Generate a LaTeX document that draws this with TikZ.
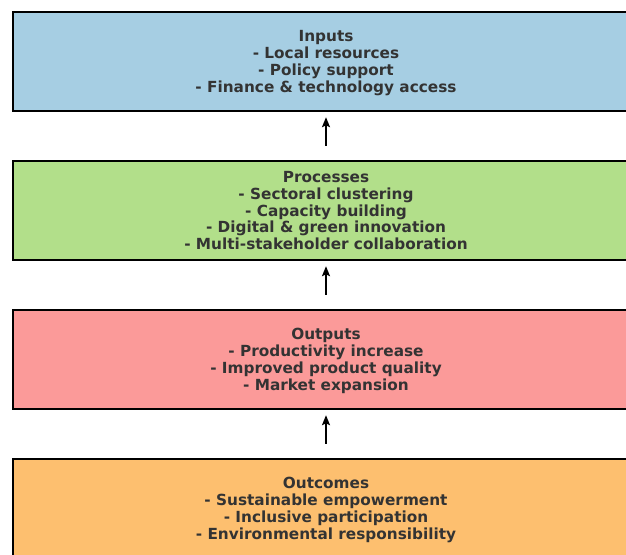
\documentclass[tikz,border=0pt]{standalone}
\usepackage{fontspec}
\setmainfont{DejaVu Sans}
\usepackage{tikz}
\usetikzlibrary{positioning}
\usetikzlibrary{arrows.meta}
\definecolor{boxblue}{HTML}{A6CEE3}
\definecolor{boxgreen}{HTML}{B2DF8A}
\definecolor{boxred}{HTML}{FB9A99}
\definecolor{boxorange}{HTML}{FDBF6F}
\definecolor{textgray}{HTML}{333333}
\tikzset{
    mybox/.style = {rectangle, line width=2.4pt, draw=black, align=center, minimum width=626pt, minimum height=99pt, inner sep=0pt, text depth=0pt, text=textgray, font=\bfseries\fontsize{15.3pt}{16.8pt}\selectfont},
    myboxb/.style = {mybox, fill=boxblue},
    myboxg/.style = {mybox, fill=boxgreen},
    myboxr/.style = {mybox, fill=boxred},
    myboxo/.style = {mybox, fill=boxorange},
    edgea/.style = {-{Stealth[length=10pt,width=8pt,inset=2pt]}, line width=1.8pt, black, shorten <=14pt, shorten >=5pt},
}

\begin{document}
\begin{tikzpicture}[x=1pt,y=-1pt]
\clip (0,0) rectangle (626,554);
\useasboundingbox (0,0) rectangle (626,554);
\node[myboxb] at (326, 61.5) (inputs) {Inputs\\- Local resources\\- Policy support\\- Finance \& technology access};
\node[myboxg] at (326, 210.5) (processes) {Processes\\- Sectoral clustering\\- Capacity building\\- Digital \& green innovation\\- Multi-stakeholder collaboration};
\node[myboxr] at (326, 359.5) (outputs) {Outputs\\- Productivity increase\\- Improved product quality\\- Market expansion};
\node[myboxo] at (326, 508.5) (outcomes) {Outcomes\\- Sustainable empowerment\\- Inclusive participation\\- Environmental responsibility};

\draw[edgea] (processes) -- (inputs);
\draw[edgea] (outputs) -- (processes);
\draw[edgea] (outcomes) -- (outputs);
\end{tikzpicture}
\end{document}
